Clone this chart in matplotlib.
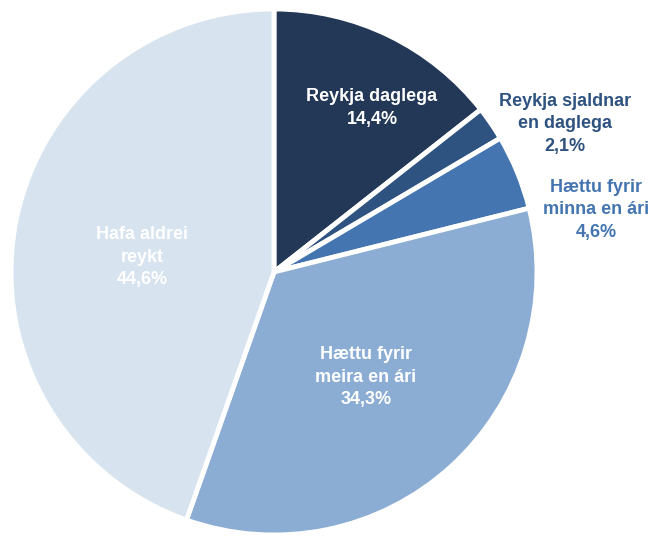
import matplotlib.pyplot as plt

# data
labels = ['Reykja daglega', 'Reykja sjaldnar\nen daglega', 'Hættu fyrir\nminna en ári',
          'Hættu fyrir\nmeira en ári', 'Hafa aldrei\nreykt']
values = [14.4, 2.1, 4.6, 34.3, 44.6]
colors = ['#223856', '#2f5380', '#4475b0', '#8badd3', '#d7e3ef']
text_colors = ['white', '#2f5380', '#4475b0', 'white', 'white']
# label positions in pixels (x, y from top)
label_pos = [(372, 108), (565, 124), (596, 210), (366, 377), (142, 257)]

W, H = 653, 536
fig = plt.figure(figsize=(W / 100, H / 100), dpi=100)
ax = fig.add_axes([0, 0, 1, 1])

ax.pie(values, colors=colors, startangle=90, counterclock=False,
       center=(274, H - 272), radius=263,
       wedgeprops=dict(edgecolor='white', linewidth=3.5))
ax.set_aspect('auto')
ax.set_xlim(0, W)
ax.set_ylim(0, H)
ax.axis('off')

for lab, v, tc, (x, y) in zip(labels, values, text_colors, label_pos):
    txt = lab + '\n' + f'{v:.1f}%'.replace('.', ',')
    ax.text(x, H - y, txt, ha='center', va='center', color=tc,
            fontsize=13, fontweight='bold', family=['Liberation Sans', 'DejaVu Sans'],
            linespacing=1.45)

fig.savefig('out.png', dpi=100)
